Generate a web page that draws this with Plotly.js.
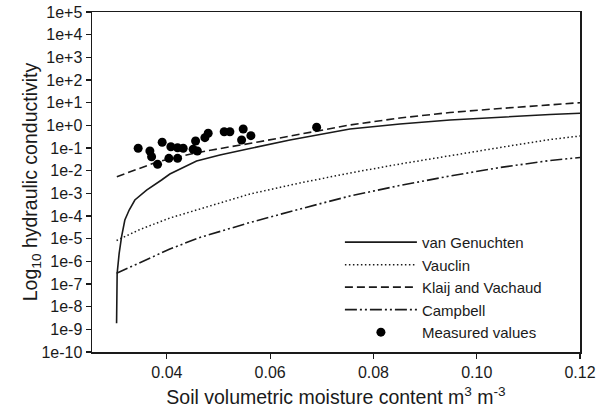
<!DOCTYPE html>
<html>
<head>
<meta charset="utf-8">
<script src="https://cdn.plot.ly/plotly-3.0.1.min.js"></script>
<style>html,body{margin:0;padding:0;background:#fff;}#chart{width:602px;height:408px;}</style>
</head>
<body>
<div id="chart"></div>
<script>
// van Genuchten
const moistVG = [0.03026,0.03031,0.03037,0.03076,0.03123,0.03186,0.0327,0.0338,0.03607,0.03897,0.04058,0.04575,0.05027,0.05608,0.06383,0.07545,0.08513,0.09482,0.1045,0.11419,0.12];
const kVG = [1.85e-9,5.4e-8,2.96e-7,2.26e-6,1.22e-5,6.67e-5,1.84e-4,5.08e-4,1.40e-3,3.87e-3,7.13e-3,0.0267,0.0491,0.0951,0.225,0.689,1.15,1.72,2.33,3.01,3.40];
// Vauclin
const moistV = [0.03026,0.03477,0.04058,0.04639,0.05608,0.06576,0.07545,0.08513,0.09482,0.1045,0.11419,0.12];
const kV = [8.3e-6,2.54e-5,8.16e-5,2.04e-4,9.35e-4,2.86e-3,7.89e-3,0.0197,0.0467,0.105,0.237,0.338];
// Klaij and Vachaud
const moistK = [0.03031,0.03826,0.04465,0.04872,0.05763,0.06383,0.06906,0.07545,0.08513,0.09482,0.1045,0.11419,0.12];
const kK = [0.00542,0.0249,0.0543,0.0817,0.184,0.338,0.591,1.035,2.11,3.68,5.53,7.89,9.98];
// Campbell
const moistC = [0.03026,0.03477,0.04058,0.04639,0.05608,0.06576,0.07545,0.08513,0.09482,0.1045,0.11419,0.12];
const kC = [2.96e-7,8.89e-7,3.50e-6,1.13e-5,5.16e-5,2.04e-4,7.62e-4,2.22e-3,5.82e-3,0.0138,0.0281,0.0381];
// Measured values
const moistM = [0.03444,0.03671,0.03704,0.0382,0.03909,0.04039,0.04077,0.04207,0.04207,0.04316,0.04509,0.04556,0.0459,0.04736,0.048,0.0511,0.0522,0.05478,0.05447,0.05627,0.069];
const kM = [0.097,0.074,0.041,0.019,0.179,0.035,0.114,0.103,0.035,0.097,0.088,0.204,0.074,0.285,0.446,0.52,0.52,0.69,0.225,0.35,0.82];

const seriesNames = ["van Genuchten","Vauclin","Klaij and Vachaud","Campbell","Measured values"];
const xTickVals = [0.04,0.06,0.08,0.10,0.12];
const xTickText = ["0.04","0.06","0.08","0.10","0.12"];
const yTickVals = [1e-10,1e-9,1e-8,1e-7,1e-6,1e-5,1e-4,1e-3,1e-2,1e-1,1e0,1e1,1e2,1e3,1e4,1e5];
const yTickText = ["1e-10","1e-9","1e-8","1e-7","1e-6","1e-5","1e-4","1e-3","1e-2","1e-1","1e+0","1e+1","1e+2","1e+3","1e+4","1e+5"];

const ink = "#1a1a1a";
const font = "Liberation Sans, Arial, Helvetica, sans-serif";

const traces = [
  {x: moistVG, y: kVG, name: seriesNames[0], mode: "lines", line: {color: ink, width: 1.6}},
  {x: moistV, y: kV, name: seriesNames[1], mode: "lines", line: {color: ink, width: 1.5, dash: "1.5px,2.5px"}},
  {x: moistK, y: kK, name: seriesNames[2], mode: "lines", line: {color: ink, width: 1.6, dash: "8px,4px"}},
  {x: moistC, y: kC, name: seriesNames[3], mode: "lines", line: {color: ink, width: 1.6, dash: "12px,3px,2px,3px,2px,3px"}},
  {x: moistM, y: kM, name: seriesNames[4], mode: "markers", marker: {color: "#000", size: 9}}
];

const layout = {
  width: 602, height: 408,
  margin: {l: 92, r: 22, t: 12, b: 56},
  paper_bgcolor: "#fff", plot_bgcolor: "#fff",
  font: {family: font, color: ink, size: 16},
  showlegend: true,
  legend: {x: 0.508, y: 0.19, xanchor: "left", yanchor: "middle", itemwidth: 72,
           bgcolor: "rgba(0,0,0,0)", borderwidth: 0, font: {size: 15, family: font, color: ink}},
  xaxis: {
    type: "linear", range: [0.0255, 0.12],
    tickvals: xTickVals, ticktext: xTickText,
    ticks: "outside", ticklen: 5, tickwidth: 1.2, tickcolor: ink,
    showline: true, linecolor: ink, linewidth: 1.5, mirror: true,
    showgrid: false, zeroline: false,
    tickfont: {size: 16},
    title: {text: "Soil volumetric moisture content m<sup>3</sup> m<sup>-3</sup>", font: {size: 19.5}}
  },
  yaxis: {
    type: "log", range: [-10, 5],
    tickvals: yTickVals, ticktext: yTickText,
    ticks: "outside", ticklen: 5, tickwidth: 1.2, tickcolor: ink,
    showline: true, linecolor: ink, linewidth: 1.5, mirror: true,
    showgrid: false, zeroline: false,
    tickfont: {size: 16},
    title: {text: "Log<sub>10</sub> hydraulic conductivity", font: {size: 19.5}}
  }
};

Plotly.newPlot("chart", traces, layout, {displayModeBar: false, staticPlot: true});
</script>
</body>
</html>
